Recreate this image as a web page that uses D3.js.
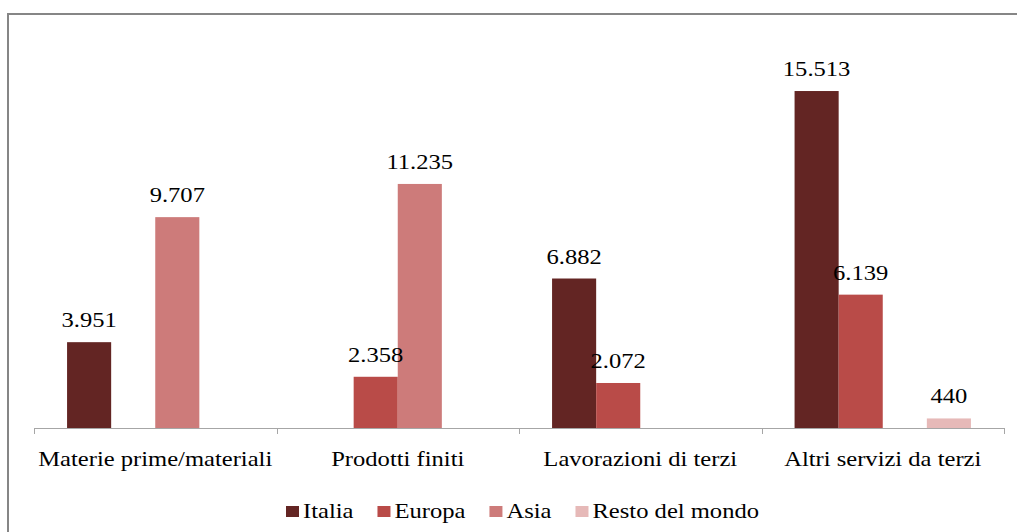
<!DOCTYPE html>
<html>
<head>
<meta charset="utf-8">
<script src="https://cdn.jsdelivr.net/npm/d3@7"></script>
</head>
<body style="margin:0;padding:0;background:#fff">
<svg id="fig" width="1017" height="532" style="display:block"></svg>
<script>
// Categories (x axis)
const categories = ["Materie prime/materiali", "Prodotti finiti", "Lavorazioni di terzi", "Altri servizi da terzi"];
// Series names (legend)
const seriesNames = ["Italia", "Europa", "Asia", "Resto del mondo"];
// Values per series, one per category (null = no bar)
const italia = [3951, null, 6882, 15513];
const europa = [null, 2358, 2072, 6139];
const asia = [9707, 11235, null, null];
const restoDelMondo = [null, null, null, 440];
const seriesColors = ["#632523", "#b94b48", "#cd7b7a", "#e6b9b8"];

const seriesValues = [italia, europa, asia, restoDelMondo];

const FONT = "'Liberation Serif', serif";
const fontSize = 21;
const widen = 1.17;   // labels are set a little wider than the natural face

const svg = d3.select("#fig");
const W = 1017, H = 532;

// Draws a text at (x, y) widened horizontally; anchor: "start" | "middle"
function label(parent, x, y, str, anchor) {
  const t = parent.append("text")
    .attr("font-family", FONT)
    .style("font-family", FONT)
    .attr("font-size", fontSize)
    .attr("fill", "#000")
    .attr("y", y)
    .text(str);
  const natural = t.node().getComputedTextLength();
  const len = natural * widen;
  t.attr("x", anchor === "middle" ? x - len / 2 : x)
    .attr("textLength", len)
    .attr("lengthAdjust", "spacingAndGlyphs");
  return len;
}

// Outer chart frame (runs off the right and bottom edges)
svg.append("rect")
  .attr("x", 8).attr("y", 14)
  .attr("width", W + 10).attr("height", H + 10)
  .attr("fill", "#fff")
  .attr("stroke", "#868686")
  .attr("stroke-width", 2);

const plot = { left: 34, right: 1004, top: 37, bottom: 428 };

const x0 = d3.scaleBand()
  .domain(categories)
  .range([plot.left, plot.right])
  .paddingInner(0).paddingOuter(0);

const x1 = d3.scaleBand()
  .domain(seriesNames)
  .range([0, x0.bandwidth()])
  .paddingInner(0).paddingOuter(0.75);

const y = d3.scaleLinear()
  .domain([0, 18000])
  .range([plot.bottom, plot.top]);

const it = d3.formatLocale({ decimal: ",", thousands: ".", grouping: [3], currency: ["€", ""] });
const fmt = it.format(",d");

// Flatten into bar records
const bars = [];
seriesNames.forEach((s, si) => {
  categories.forEach((c, ci) => {
    const v = seriesValues[si][ci];
    if (v != null) bars.push({ cat: c, series: s, value: v, color: seriesColors[si] });
  });
});

svg.append("g")
  .selectAll("rect")
  .data(bars)
  .join("rect")
  .attr("x", d => x0(d.cat) + x1(d.series))
  .attr("y", d => y(d.value))
  .attr("width", x1.bandwidth())
  .attr("height", d => y(0) - y(d.value))
  .attr("fill", d => d.color);

// Value labels above bars
const valG = svg.append("g");
bars.forEach(d => {
  label(valG, x0(d.cat) + x1(d.series) + x1.bandwidth() / 2, y(d.value) - 15, fmt(d.value), "middle");
});

// Category axis line and boundary ticks
svg.append("line")
  .attr("x1", plot.left).attr("x2", plot.right)
  .attr("y1", plot.bottom + 0.5).attr("y2", plot.bottom + 0.5)
  .attr("stroke", "#a6a6a6").attr("stroke-width", 1);

const boundaries = categories.map(c => x0(c)).concat([x0(categories[categories.length - 1]) + x0.bandwidth()]);
svg.append("g")
  .selectAll("line")
  .data(boundaries)
  .join("line")
  .attr("x1", d => Math.round(d) + 0.5).attr("x2", d => Math.round(d) + 0.5)
  .attr("y1", plot.bottom).attr("y2", plot.bottom + 6)
  .attr("stroke", "#a6a6a6").attr("stroke-width", 1);

const catG = svg.append("g");
categories.forEach(c => {
  label(catG, x0(c) + x0.bandwidth() / 2, 466, c, "middle");
});

// Legend
const legend = svg.append("g");
let lx = 286;
seriesNames.forEach((s, i) => {
  legend.append("rect")
    .attr("x", lx).attr("y", 506)
    .attr("width", 13).attr("height", 11)
    .attr("fill", seriesColors[i]);
  const w = label(legend, lx + 17, 518, s, "start");
  lx = lx + 17 + w + 24;
});
</script>
</body>
</html>
